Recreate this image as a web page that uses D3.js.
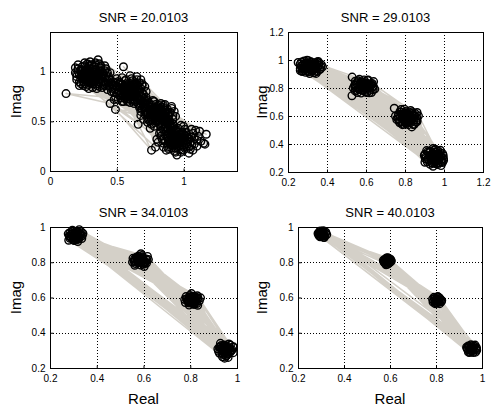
<!DOCTYPE html>
<html>
<head>
<meta charset="utf-8">
<script src="https://cdn.jsdelivr.net/npm/d3@7"></script>
<style>
  body { margin: 0; background: #fff; }
  svg { display: block; }
</style>
</head>
<body>
<svg width="491" height="407"></svg>
<script>
// received symbols, in the order they were plotted (real, imag)
const snr20 = [
  [0.31,0.95],[0.78,0.61],[0.62,0.77],[0.97,0.28],[0.24,1.01],[0.90,0.36],[0.86,0.55],[0.55,0.84],
  [0.36,0.90],[0.66,0.83],[1.03,0.33],[0.74,0.54],[0.27,0.92],[0.83,0.64],[0.92,0.25],[0.52,0.76],
  [0.39,1.00],[0.99,0.39],[0.60,0.72],[0.90,0.59],[0.22,0.97],[0.79,0.50],[0.86,0.30],[0.64,0.89],
  [0.33,1.05],[0.57,0.80],[0.71,0.60],[1.08,0.27],[0.29,0.87],[0.94,0.19],[0.84,0.47],[0.69,0.75],
  [0.41,0.94],[0.50,0.85],[1.01,0.42],[0.76,0.66],[0.26,1.06],[0.88,0.62],[0.89,0.22],[0.61,0.93],
  [0.35,0.98],[1.11,0.35],[0.54,0.70],[0.81,0.57],[0.20,0.92],[0.73,0.49],[0.96,0.34],[0.67,0.79],
  [0.32,0.84],[0.58,0.86],[0.83,0.35],[0.92,0.52],[0.37,1.08],[1.05,0.22],[0.48,0.79],[0.77,0.71],
  [0.28,0.99],[0.85,0.42],[0.93,0.41],[0.63,0.68],[0.43,0.91],[0.71,0.85],[1.00,0.24],[0.68,0.56],
  [0.23,0.88],[0.88,0.27],[0.80,0.63],[0.56,0.91],[0.34,0.93],[0.87,0.49],[1.07,0.38],[0.65,0.74],
  [0.30,1.10],[0.51,0.72],[0.95,0.16],[0.75,0.58],[0.40,0.87],[0.81,0.29],[0.91,0.65],[0.59,0.78],
  [0.21,1.03],[0.82,0.53],[1.13,0.30],[0.68,0.92],[0.38,0.96],[0.53,0.88],[0.72,0.64],[0.98,0.31],
  [0.25,0.94],[0.91,0.33],[0.86,0.59],[0.62,0.81],[0.33,1.01],[0.78,0.45],[1.02,0.28],[0.57,0.74],
  [0.27,0.85],[0.70,0.70],[0.87,0.40],[0.83,0.68],[0.42,1.03],[0.94,0.23],[0.70,0.52],[0.60,0.96],
  [0.19,0.99],[0.89,0.56],[1.09,0.41],[0.55,0.82],[0.31,0.91],[0.76,0.52],[0.85,0.24],[0.66,0.86],
  [0.36,1.12],[0.49,0.75],[0.97,0.37],[0.80,0.60],[0.24,0.96],[1.04,0.18],[0.93,0.60],[0.63,0.76],
  [0.35,0.86],[0.74,0.62],[0.92,0.29],[0.58,0.70],[0.29,1.04],[0.72,0.80],[0.84,0.51],[1.15,0.28],
  [0.40,0.98],[0.90,0.44],[0.79,0.55],[0.54,0.94],[0.22,0.90],[0.87,0.45],[0.99,0.26],[0.61,0.84],
  [0.32,0.97],[0.67,0.72],[0.84,0.32],[0.71,0.57],[0.26,1.09],[1.06,0.34],[0.82,0.66],[0.51,0.81],
  [0.38,0.89],[0.90,0.48],[0.93,0.20],[0.64,0.79],[0.28,0.95],[0.77,0.48],[1.01,0.36],[0.57,0.88],
  [0.44,0.95],[0.69,0.88],[0.89,0.31],[0.85,0.62],[0.23,1.00],[0.73,0.59],[0.96,0.43],[0.60,0.75],
  [0.34,1.07],[1.10,0.25],[0.81,0.51],[0.53,0.78],[0.30,0.89],[0.88,0.58],[0.86,0.37],[0.65,0.95],
  [0.37,0.93],[0.56,0.73],[0.98,0.21],[0.78,0.64],[0.20,0.95],[1.03,0.30],[0.83,0.44],[0.62,0.87],
  [0.33,0.88],[0.69,0.62],[0.91,0.26],[0.59,0.83],[0.27,1.02],[0.47,0.83],[1.17,0.37],[0.78,0.70],
  [0.12,0.78],[0.45,0.68],[0.76,0.21],[0.66,0.47],[0.41,1.06],[1.16,0.27],[0.55,1.05],[0.94,0.55],
  [0.25,0.90],[0.79,0.24],[0.68,0.68],[0.75,0.43],[0.45,0.99],[1.12,0.40],[0.49,0.62],[0.80,0.58],
  [0.30,0.97],[0.93,0.33],[0.61,0.79],[0.80,0.57],[0.27,0.95],[0.84,0.60],[0.97,0.30],[0.57,0.83],
  [0.33,0.99],[0.62,0.84],[0.96,0.27],[0.78,0.56],[0.29,1.00],[0.82,0.61],[0.90,0.30],[0.56,0.78],
  [0.35,0.95],[0.99,0.33],[0.59,0.76],[0.85,0.57],[0.26,0.98],[0.77,0.59],[0.94,0.36],[0.63,0.82],
  [0.32,0.92],[0.58,0.81],[0.83,0.56],[1.00,0.30],[0.28,0.93],[0.92,0.27],[0.79,0.53],[0.60,0.86],
  [0.34,1.02],[0.55,0.80],[0.96,0.32],[0.81,0.62],[0.31,0.98],[0.86,0.53],[0.93,0.29],[0.64,0.78],
  [0.29,0.91],[1.01,0.35],[0.57,0.77],[0.76,0.61],[0.36,0.97],[0.79,0.58],[0.97,0.25],[0.61,0.82],
  [0.25,0.99],[0.60,0.79],[0.88,0.33],[0.82,0.55],[0.32,1.03],[0.87,0.61],[0.98,0.34],[0.54,0.83],
  [0.38,0.93],[0.94,0.28],[0.62,0.75],[0.80,0.54],[0.27,1.02],[0.83,0.58],[0.91,0.35],[0.58,0.84],
  [0.33,0.94],[0.65,0.81],[1.02,0.31],[0.78,0.63],[0.30,0.93],[0.84,0.55],[0.95,0.35],[0.59,0.81],
  [0.28,0.97],[0.97,0.29],[0.56,0.86],[0.81,0.59],[0.37,1.01],[0.77,0.56],[0.92,0.32],[0.63,0.79],
  [0.31,0.96],[0.57,0.79],[0.90,0.27],[0.85,0.64],[0.24,0.93],[0.80,0.50],[0.99,0.28],[0.61,0.77],
  [0.34,0.96],[1.04,0.33],[0.60,0.83],[0.82,0.63],[0.29,1.06],[0.78,0.59],[0.94,0.26],[0.66,0.77],
  [0.32,0.90],[0.53,0.79],[0.96,0.39],[0.86,0.56],[0.26,0.96],[0.83,0.52],[1.00,0.21],[0.58,0.79],
  [0.36,0.92],[0.91,0.38],[0.64,0.85],[0.79,0.61],[0.30,1.01],[0.75,0.55],[0.96,0.31],[0.55,0.76],
  [0.39,0.97],[0.62,0.80],[0.93,0.38],[0.84,0.59],[0.28,0.90],[0.81,0.54],[1.05,0.29],[0.59,0.88],
  [0.33,0.97],[0.88,0.35],[0.57,0.82],[0.77,0.62],[0.23,1.02],[0.87,0.52],[0.95,0.28],[0.65,0.72],
  [0.35,1.00],[0.60,0.78],[0.98,0.36],[0.82,0.57],[0.31,0.88],[0.85,0.66],[0.91,0.23],[0.52,0.84],
  [0.27,0.99],[1.00,0.37],[0.63,0.87],[0.76,0.57],[0.38,1.04],[0.80,0.65],[0.93,0.31],[0.58,0.73],
  [0.30,0.94],[0.89,0.29],[0.61,0.86],[0.83,0.49],[0.34,0.91],[0.79,0.60],[0.97,0.33],[0.56,0.81],
  [0.40,0.90],[0.70,0.67],[0.66,0.74],[0.88,0.47],[0.21,1.07],[0.69,0.86],[1.06,0.26],[0.44,0.86],
  [0.37,0.85],[0.52,0.89],[0.93,0.45],[0.71,0.64],[0.22,0.86],[0.90,0.41],[1.08,0.33],[0.48,0.72],
  [0.42,0.88],[0.73,0.67],[0.86,0.44],[0.64,0.70],[0.34,1.09],[0.98,0.46],[0.67,0.66],[0.50,0.93],
  [0.45,0.92],[0.62,0.91],[0.83,0.40],[0.74,0.69],[0.19,1.04],[0.69,0.79],[1.04,0.24],[0.47,0.87],
  [0.28,1.08],[0.55,0.70],[0.89,0.38],[0.91,0.63],[0.39,0.84],[0.72,0.74],[0.98,0.19],[0.51,0.90],
  [0.25,0.86],[0.66,0.68],[1.06,0.42],[0.76,0.47],[0.43,0.99],[0.60,0.69],[0.87,0.21],[0.70,0.77],
  [0.35,0.83],[0.53,0.74],[0.92,0.47],[0.89,0.51],[0.41,1.01],[0.67,0.89],[1.10,0.31],[0.73,0.53],
  [0.23,0.95],[0.63,0.72],[0.85,0.28],[0.82,0.47],[0.38,1.06],[0.46,0.80],[1.02,0.39],[0.68,0.60],
  [0.31,1.07],[0.71,0.71],[0.94,0.42],[0.86,0.67],[0.20,0.98],[0.57,0.92],[0.80,0.32],[0.75,0.64],
  [0.44,0.89],[0.50,0.78],[1.00,0.45],[0.92,0.56],[0.26,0.88],[0.65,0.92],[0.88,0.24],[0.72,0.58],
  [0.36,0.88],[0.62,0.71],[1.07,0.21],[0.77,0.51],[0.29,0.83],[0.54,0.87],[0.82,0.38],[0.85,0.50],
  [0.42,0.96],[0.68,0.83],[0.97,0.22],[0.79,0.67],[0.24,1.05],[0.49,0.86],[1.03,0.27],[0.74,0.51],
  [0.45,0.84],[0.70,0.65],[0.88,0.43],[0.47,0.90],[0.72,0.68],[0.90,0.46],[0.43,0.82],[0.68,0.71],
  [0.86,0.47],[0.46,0.88],[0.67,0.64],[0.91,0.43],[0.48,0.84],[0.73,0.71],[0.87,0.51],[0.44,0.93],
  [0.69,0.69],[0.89,0.49],[0.41,0.86],[0.71,0.62],[0.92,0.44],[0.49,0.89],[0.74,0.65],[0.88,0.53],
  [0.30,0.99],[0.59,0.82],[0.82,0.59],[0.95,0.30],[0.29,0.95],[0.61,0.80],[0.80,0.56],[0.94,0.33],
  [0.33,0.96],[0.58,0.77],[0.84,0.57],[0.97,0.31],[0.27,0.97],[0.62,0.78],[0.81,0.61],[0.93,0.27],
  [0.31,0.94],[0.56,0.84],[0.79,0.57],[0.96,0.35],[0.34,0.99],[0.60,0.81],[0.83,0.54],[0.98,0.29]
];

const snr29 = [
  [0.335,0.938],[0.962,0.287],[0.792,0.603],[0.571,0.826],[0.296,0.962],[0.834,0.571],[0.612,0.798],
  [0.925,0.318],[0.978,0.296],[0.347,0.971],[0.583,0.842],[0.806,0.546],[0.281,0.934],[0.941,0.262],
  [0.548,0.803],[0.768,0.612],[0.851,0.598],[0.318,0.987],[0.993,0.331],[0.629,0.821],[0.305,0.915],
  [0.596,0.772],[0.821,0.624],[0.913,0.289],[0.352,0.948],[0.784,0.559],[0.268,0.958],[0.957,0.343],
  [0.564,0.789],[0.986,0.271],[0.842,0.538],[0.607,0.855],[0.327,0.926],[0.797,0.581],[0.931,0.302],
  [0.289,0.979],[0.552,0.836],[0.968,0.254],[0.861,0.572],[0.341,0.957],[0.618,0.783],[0.776,0.593],
  [0.946,0.325],[0.301,0.941],[0.908,0.311],[0.587,0.811],[0.815,0.609],[0.362,0.932],[0.829,0.553],
  [0.541,0.818],[0.975,0.319],[0.274,0.944],[0.952,0.278],[0.803,0.632],[0.634,0.804],[0.323,0.969],
  [0.575,0.764],[0.929,0.349],[0.758,0.574],[0.311,0.903],[0.838,0.617],[0.997,0.298],[0.601,0.838],
  [0.283,0.993],[0.937,0.267],[0.559,0.851],[0.792,0.541],[0.356,0.964],[0.847,0.584],[0.964,0.306],
  [0.622,0.812],[0.919,0.294],[0.298,0.925],[0.781,0.627],[0.566,0.797],[0.337,0.981],[0.981,0.337],
  [0.824,0.566],[0.262,0.971],[0.593,0.826],[0.869,0.601],[0.944,0.241],[0.544,0.779],[0.329,0.945],
  [0.956,0.362],[0.291,0.952],[0.811,0.594],[0.611,0.857],[0.773,0.551],[0.902,0.327],[0.345,0.919],
  [0.580,0.803],[0.989,0.283],[0.836,0.629],[0.314,0.958],[0.933,0.316],[0.637,0.789],[0.799,0.567],
  [0.277,0.922],[0.529,0.878],[0.971,0.266],[0.856,0.556],[0.368,0.951],[0.926,0.339],[0.604,0.768],
  [0.765,0.603],[0.305,0.976],[0.831,0.582],[0.960,0.293],[0.572,0.834],[0.252,0.982],[0.948,0.355],
  [0.745,0.655],[0.626,0.831],[0.332,0.909],[0.914,0.273],[0.528,0.745],[0.817,0.538],[0.349,0.985],
  [0.985,0.312],[0.788,0.615],[0.597,0.794],[0.286,0.938],[0.939,0.285],[0.556,0.823],[0.844,0.605],
  [0.320,0.952],[0.967,0.327],[0.803,0.555],[0.614,0.815],
  [0.318,0.948],[0.952,0.301],[0.806,0.590],[0.593,0.807],[0.302,0.957],[0.823,0.578],[0.584,0.822],
  [0.941,0.318],[0.961,0.292],[0.331,0.961],[0.601,0.818],[0.799,0.572],[0.309,0.938],[0.957,0.287],
  [0.578,0.799],[0.788,0.597],[0.827,0.601],[0.326,0.972],[0.966,0.316],[0.608,0.826],[0.314,0.929],
  [0.588,0.788],[0.814,0.612],[0.937,0.298],[0.339,0.946],[0.796,0.564],[0.295,0.945],[0.949,0.327],
  [0.577,0.815],[0.972,0.286],[0.819,0.556],[0.596,0.835],[0.322,0.936],[0.808,0.583],[0.945,0.296],
  [0.303,0.969],[0.571,0.829],[0.958,0.275],[0.836,0.589],[0.328,0.955],[0.603,0.796],[0.791,0.609],
  [0.954,0.321],[0.311,0.951],[0.934,0.309],[0.592,0.814],[0.811,0.598],[0.344,0.941],[0.817,0.568],
  [0.568,0.806],[0.963,0.308],[0.291,0.933],[0.947,0.281],[0.802,0.621],[0.614,0.803],[0.316,0.963],
  [0.585,0.781],[0.942,0.337],[0.786,0.581],[0.324,0.921],[0.826,0.606],[0.975,0.301],[0.599,0.829],
  [0.298,0.978],[0.951,0.264],[0.574,0.842],[0.804,0.553],[0.337,0.968],[0.831,0.575],[0.959,0.298],
  [0.609,0.811],[0.936,0.291],[0.307,0.944],[0.795,0.615],[0.582,0.808],[0.333,0.931],[0.969,0.329],
  [0.812,0.576],[0.285,0.961],[0.597,0.819],
  [0.366,0.935],[0.904,0.296],[0.764,0.580],[0.545,0.821],[0.277,0.962],[0.853,0.617],[0.632,0.833],
  [0.960,0.259],[0.996,0.318],[0.358,0.979],[0.556,0.768],[0.829,0.639],[0.272,0.918],[0.917,0.344],
  [0.638,0.812],[0.774,0.630],[0.862,0.561],[0.344,0.904],[0.981,0.355],[0.590,0.858],[0.298,0.998],
  [0.617,0.766],[0.787,0.538],[0.902,0.270],[0.371,0.967],[0.848,0.541],[0.263,0.940],[0.929,0.255],
  [0.545,0.848],[0.998,0.284],[0.771,0.561],[0.639,0.846],[0.350,0.918],[0.861,0.588],[0.911,0.353],
  [0.270,0.985],[0.535,0.800],[0.985,0.246],[0.797,0.649],[0.355,0.989],[0.628,0.767],[0.751,0.600],
  [0.969,0.350],[0.290,0.912],[0.899,0.318],[0.566,0.862],[0.835,0.522],[0.377,0.951],[0.780,0.646],
  [0.552,0.783],[0.944,0.368],[0.305,0.995],[0.992,0.268],[0.862,0.625],[0.645,0.792],[0.263,0.925]
];

const snr34 = [
  [0.318,0.942],[0.797,0.598],[0.962,0.283],[0.571,0.822],[0.295,0.961],[0.931,0.312],[0.823,0.574],
  [0.602,0.797],[0.578,0.835],[0.326,0.958],[0.806,0.606],[0.975,0.297],[0.301,0.928],[0.560,0.805],
  [0.942,0.276],[0.789,0.580],[0.334,0.947],[0.957,0.325],[0.611,0.818],[0.818,0.562],[0.831,0.592],
  [0.288,0.944],[0.588,0.784],[0.921,0.295],[0.312,0.975],[0.795,0.569],[0.983,0.318],[0.566,0.793],
  [0.322,0.931],[0.948,0.302],[0.596,0.826],[0.812,0.607],[0.935,0.287],[0.299,0.953],[0.785,0.593],
  [0.607,0.806],[0.285,0.968],[0.967,0.309],[0.826,0.583],[0.315,0.937],[0.574,0.811],[0.953,0.268],
  [0.593,0.839],[0.802,0.571],[0.330,0.962],[0.928,0.321],[0.306,0.946],[0.816,0.598],[0.562,0.819],
  [0.971,0.290],[0.791,0.577],[0.293,0.935],[0.600,0.788],[0.319,0.970],[0.945,0.330],[0.828,0.566],
  [0.960,0.279],[0.581,0.801],[0.338,0.952],[0.807,0.589],[0.615,0.812],[0.938,0.305],[0.303,0.923],
  [0.569,0.829],[0.799,0.612],[0.979,0.303],[0.290,0.957],[0.820,0.578],[0.950,0.316],[0.590,0.820],
  [0.325,0.940],[0.925,0.284],[0.787,0.586],[0.604,0.792],[0.308,0.965],[0.814,0.561],[0.282,0.950],
  [0.576,0.797],[0.965,0.336],[0.833,0.597],[0.943,0.293],[0.595,0.831],[0.314,0.929],[0.796,0.603],
  [0.296,0.972],[0.957,0.272],[0.583,0.815],[0.809,0.575],[0.932,0.327],[0.328,0.955],[0.565,0.808],
  [0.822,0.604],[0.300,0.940],[0.970,0.311],[0.608,0.800],
  [0.309,0.952],[0.812,0.584],[0.951,0.298],[0.586,0.812],[0.317,0.946],[0.946,0.311],[0.804,0.591],
  [0.579,0.803],[0.593,0.817],[0.303,0.958],[0.815,0.578],[0.959,0.293],[0.312,0.940],[0.591,0.804],
  [0.940,0.301],[0.801,0.588],[0.320,0.955],[0.954,0.315],[0.577,0.816],[0.819,0.592],[0.806,0.576],
  [0.299,0.947],[0.588,0.797],[0.936,0.296],[0.314,0.963],[0.808,0.595],[0.963,0.306],[0.582,0.823],
  [0.305,0.937],[0.947,0.287],[0.596,0.809],[0.797,0.579],[0.957,0.319],[0.321,0.944],[0.813,0.570],
  [0.574,0.807],[0.296,0.961],[0.961,0.284],[0.822,0.587],[0.310,0.958],[0.589,0.826],[0.944,0.323],
  [0.598,0.799],[0.803,0.601],[0.316,0.933],[0.952,0.305],[0.308,0.949],[0.811,0.566],[0.583,0.814],
  [0.969,0.296],
  [0.336,0.935],[0.779,0.571],[0.925,0.319],[0.555,0.822],[0.285,0.936],[0.984,0.287],[0.839,0.581],
  [0.613,0.796],[0.563,0.783],[0.334,0.972],[0.795,0.557],[0.938,0.264],[0.278,0.961],[0.617,0.833],
  [0.972,0.330],[0.830,0.610],[0.319,0.918],[0.918,0.308],[0.589,0.848],[0.782,0.605],[0.832,0.556],
  [0.296,0.982],[0.553,0.801],[0.962,0.260],[0.341,0.963],[0.805,0.622],[0.929,0.340],[0.603,0.776],
  [0.280,0.925],[0.985,0.320],[0.621,0.815],[0.776,0.588],[0.947,0.256],[0.325,0.985],[0.844,0.598]
];

const snr40 = [
  [0.313,0.955],[0.966,0.302],[0.577,0.815],[0.811,0.577],[0.293,0.969],[0.794,0.594],[0.944,0.322],
  [0.596,0.795],[0.308,0.974],[0.582,0.820],[0.972,0.290],[0.820,0.587],[0.799,0.571],[0.299,0.946],
  [0.938,0.304],[0.319,0.963],[0.600,0.812],[0.790,0.582],[0.960,0.328],[0.574,0.801],[0.291,0.952],
  [0.949,0.293],[0.814,0.599],[0.591,0.789],[0.976,0.315],[0.311,0.942],[0.802,0.567],[0.603,0.803],
  [0.585,0.824],[0.933,0.318],[0.325,0.957],[0.785,0.591],[0.297,0.978],[0.962,0.288],[0.571,0.811],
  [0.823,0.576],[0.952,0.332],[0.807,0.603],[0.287,0.963],[0.594,0.823],[0.977,0.301],[0.316,0.949],
  [0.580,0.792],[0.796,0.565],[0.303,0.968],[0.941,0.290],[0.817,0.594],[0.967,0.324],[0.602,0.817],
  [0.296,0.944],[0.791,0.601],[0.576,0.798],[0.957,0.296],[0.321,0.970],[0.935,0.312],[0.813,0.573],
  [0.590,0.826],[0.300,0.955],[0.606,0.808],[0.800,0.590],[0.970,0.330],[0.310,0.979],[0.290,0.960],
  [0.825,0.583],[0.946,0.288],[0.583,0.786],[0.787,0.574],[0.314,0.940],[0.975,0.307],[0.597,0.800],
  [0.940,0.325],[0.808,0.605],[0.294,0.975],[0.573,0.806],[0.816,0.565],[0.958,0.316],[0.593,0.814],
  [0.307,0.951],
  [0.305,0.961],[0.955,0.311],[0.588,0.806],[0.805,0.585],[0.300,0.958],[0.800,0.581],[0.951,0.306],
  [0.592,0.809],[0.309,0.964],[0.584,0.802],[0.960,0.315],[0.809,0.589],[0.802,0.588],[0.303,0.953],
  [0.958,0.303],[0.311,0.959],[0.586,0.811],[0.807,0.579],[0.949,0.313],[0.591,0.800],[0.299,0.963],
  [0.954,0.319],[0.810,0.583],[0.583,0.808],[0.962,0.309],[0.306,0.956],[0.804,0.590],[0.590,0.813],
  [0.952,0.300],[0.302,0.967]
];

const titles = ["SNR = 20.0103", "SNR = 29.0103", "SNR = 34.0103", "SNR = 40.0103"];
const ticksWide = [0, 0.5, 1];
const ticks29 = [0.2, 0.4, 0.6, 0.8, 1, 1.2];
const ticksNarrow = [0.2, 0.4, 0.6, 0.8, 1];

const svg = d3.select("svg");
const font = "'Liberation Sans', Arial, Helvetica, sans-serif";

function drawPanel(p) {
    const x = d3.scaleLinear().domain(p.xDomain).range([p.left, p.right]);
    const y = d3.scaleLinear().domain(p.yDomain).range([p.bottom, p.top]);
    const g = svg.append("g");

    // gray trace between consecutive symbols
    const line = d3.line()
        .x(d => x(d[0]))
        .y(d => y(d[1]));

    g.append("path")
        .attr("d", line(p.data))
        .attr("fill", "none")
        .attr("stroke", "#d4d0c8")
        .attr("stroke-width", 1.5)
        .attr("stroke-linejoin", "round");

    // dotted grid
    const grid = g.append("g")
        .attr("stroke", "#000")
        .attr("stroke-width", 1)
        .attr("stroke-dasharray", "1,2")
        .attr("shape-rendering", "crispEdges");
    p.xTicks.filter(t => t > p.xDomain[0] && t < p.xDomain[1]).forEach(t => {
        grid.append("line")
            .attr("x1", Math.round(x(t)) + 0.5).attr("x2", Math.round(x(t)) + 0.5)
            .attr("y1", p.top).attr("y2", p.bottom);
    });
    p.yTicks.filter(t => t > p.yDomain[0] && t < p.yDomain[1]).forEach(t => {
        grid.append("line")
            .attr("y1", Math.round(y(t)) + 0.5).attr("y2", Math.round(y(t)) + 0.5)
            .attr("x1", p.left).attr("x2", p.right);
    });

    // open circle markers
    g.append("g")
        .selectAll("circle")
        .data(p.data)
        .join("circle")
        .attr("cx", d => x(d[0]))
        .attr("cy", d => y(d[1]))
        .attr("r", 3.8)
        .attr("fill", "none")
        .attr("stroke", "#000")
        .attr("stroke-width", 1.4);

    // box
    g.append("rect")
        .attr("x", p.left + 0.5).attr("y", p.top + 0.5)
        .attr("width", p.right - p.left).attr("height", p.bottom - p.top)
        .attr("fill", "none")
        .attr("stroke", "#000")
        .attr("shape-rendering", "crispEdges");

    // axes
    const xAxis = g.append("g")
        .attr("transform", `translate(0,${p.bottom + 0.5})`)
        .call(d3.axisBottom(x).tickValues(p.xTicks).tickSize(-3).tickPadding(6).tickFormat(d => String(d)));
    const yAxis = g.append("g")
        .attr("transform", `translate(${p.left + 0.5},0)`)
        .call(d3.axisLeft(y).tickValues(p.yTicks).tickSize(-3).tickPadding(5).tickFormat(d => String(d)));
    [xAxis, yAxis].forEach(a => {
        a.select(".domain").remove();
        a.attr("font-family", font).attr("font-size", 10);
        a.selectAll("text").attr("fill", "#000");
        a.selectAll("line").attr("stroke", "#000");
    });

    // title and labels
    g.append("text")
        .attr("x", (p.left + p.right) / 2)
        .attr("y", p.top - 10)
        .attr("text-anchor", "middle")
        .attr("font-family", font)
        .attr("font-size", 13)
        .text(p.title);

    g.append("text")
        .attr("transform", `translate(${p.ylabelX},${(p.top + p.bottom) / 2}) rotate(-90)`)
        .attr("text-anchor", "middle")
        .attr("font-family", font)
        .attr("font-size", 15)
        .text("Imag");

    if (p.xlabel) {
        g.append("text")
            .attr("x", (p.left + p.right) / 2)
            .attr("y", p.bottom + 36)
            .attr("text-anchor", "middle")
            .attr("font-family", font)
            .attr("font-size", 15)
            .text("Real");
    }
}

drawPanel({ data: snr20, title: titles[0], left: 50, right: 237, top: 32, bottom: 171,
    xDomain: [0, 1.4], yDomain: [0, 1.4], xTicks: ticksWide, yTicks: ticksWide, ylabelX: 21 });
drawPanel({ data: snr29, title: titles[1], left: 288, right: 483, top: 32, bottom: 172,
    xDomain: [0.2, 1.2], yDomain: [0.2, 1.2], xTicks: ticks29, yTicks: ticks29, ylabelX: 267 });
drawPanel({ data: snr34, title: titles[2], left: 50, right: 237, top: 227, bottom: 368,
    xDomain: [0.2, 1], yDomain: [0.2, 1], xTicks: ticksNarrow, yTicks: ticksNarrow, ylabelX: 21, xlabel: true });
drawPanel({ data: snr40, title: titles[3], left: 298, right: 482, top: 227, bottom: 368,
    xDomain: [0.2, 1], yDomain: [0.2, 1], xTicks: ticksNarrow, yTicks: ticksNarrow, ylabelX: 267, xlabel: true });
</script>
</body>
</html>
